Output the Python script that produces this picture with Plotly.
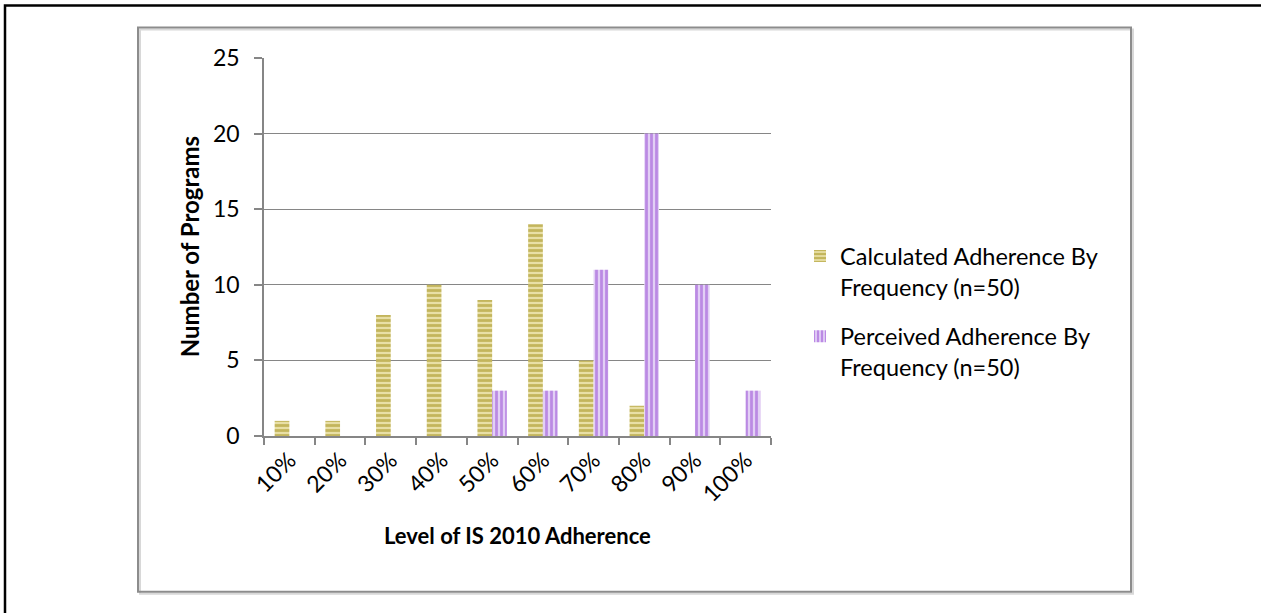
import plotly.graph_objects as go

# Adherence levels and program counts per level
levels = ["10%", "20%", "30%", "40%", "50%", "60%", "70%", "80%", "90%", "100%"]
calculated = [1, 1, 8, 10, 9, 14, 5, 2, 0, 0]
perceived = [0, 0, 0, 0, 3, 3, 11, 20, 10, 3]
y_ticks = [0, 5, 10, 15, 20, 25]

W, H = 1261, 613
PX0, PX1 = 264, 771      # plot area, horizontal pixels
PY0, PY1 = 57.5, 436     # plot area, vertical pixels (top, bottom)

def px(x):
    return (x - PX0) / (PX1 - PX0)

def py(y):
    return (PY1 - y) / (PY1 - PY0)

FONT = "Lato"
GRID = "#868686"

fig = go.Figure()
fig.add_trace(go.Bar(
    x=levels, y=calculated,
    name="Calculated Adherence By<br>Frequency (n=50)",
    legendgroup="calc",
    marker=dict(
        color="#E8DFA6",
        line=dict(width=0),
        pattern=dict(shape="-", fgcolor="#9E8C12", bgcolor="#E8DFA6",
                     size=5, solidity=0.55, fillmode="overlay"),
    ),
))
fig.add_trace(go.Bar(
    x=levels, y=perceived,
    name="Perceived Adherence By<br>Frequency (n=50)",
    legendgroup="perc",
    marker=dict(
        color="#E2CFF5",
        line=dict(width=0),
        pattern=dict(shape="|", fgcolor="#9446D3", bgcolor="#E2CFF5",
                     size=5, solidity=0.55, fillmode="overlay"),
    ),
))

fig.update_layout(
    width=W, height=H,
    margin=dict(l=PX0, r=W - PX1, t=PY0, b=H - PY1),
    paper_bgcolor="white", plot_bgcolor="white",
    barmode="group", bargap=0.42, bargroupgap=0,
    font=dict(family=FONT, color="black", size=23),
    showlegend=True,
    legend=dict(
        x=px(800), y=py(234), xanchor="left", yanchor="top",
        font=dict(family=FONT, size=23.5, color="black"),
        valign="top", tracegroupgap=16, itemwidth=30,
        bgcolor="rgba(0,0,0,0)",
    ),
    xaxis=dict(
        type="category", tickson="boundaries", ticks="outside", ticklen=7,
        tickcolor=GRID, tickwidth=1.5, tickangle=-45,
        showline=True, linecolor=GRID, linewidth=1.5, showgrid=False,
        tickfont=dict(family=FONT, size=23),
    ),
    yaxis=dict(
        range=[0, 25], tickvals=y_ticks, ticks="outside", ticklen=8,
        tickcolor=GRID, tickwidth=1.5, showline=True, linecolor=GRID,
        linewidth=1.5, showgrid=True, gridcolor=GRID, gridwidth=1.3,
        zeroline=False, ticklabelstandoff=10,
        tickfont=dict(family=FONT, size=23),
    ),
    shapes=[
        # outer page frame
        dict(type="rect", xref="paper", yref="paper",
             x0=px(5), y0=py(5), x1=px(1275), y1=py(625),
             line=dict(color="black", width=2.5)),
        # chart area frame with a soft shadow
        dict(type="rect", xref="paper", yref="paper",
             x0=px(140), y0=py(29), x1=px(1133), y1=py(594),
             line=dict(color="#D8D8D8", width=2)),
        dict(type="rect", xref="paper", yref="paper",
             x0=px(138), y0=py(27), x1=px(1131), y1=py(592),
             line=dict(color="#8C8C8C", width=2)),
    ],
    annotations=[
        dict(text="<b>Number of Programs</b>", xref="paper", yref="paper",
             x=px(189), y=py(247), textangle=-90, showarrow=False,
             xanchor="center", yanchor="middle",
             font=dict(family=FONT, size=24, color="black")),
        dict(text="<b>Level of IS 2010 Adherence</b>", xref="paper", yref="paper",
             x=px(517), y=py(536), showarrow=False,
             xanchor="center", yanchor="middle",
             font=dict(family=FONT, size=22, color="black")),
    ],
)

fig.write_html("out.html")
